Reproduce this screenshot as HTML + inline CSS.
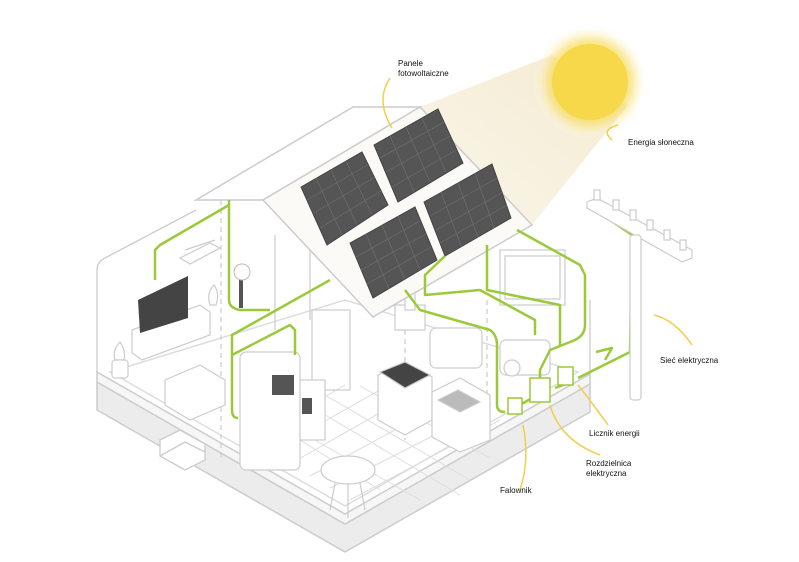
<!DOCTYPE html>
<html><head><meta charset="utf-8"><style>
body{margin:0;background:#fff}
svg{display:block}
text{font-family:"Liberation Sans",sans-serif;font-size:8px;fill:#111}
</style></head><body>
<svg width="799" height="562" viewBox="0 0 799 562" xmlns="http://www.w3.org/2000/svg">
<defs>
<radialGradient id="sg"><stop offset="0.55" stop-color="#f6d84a"/><stop offset="0.75" stop-color="#f8e27a" stop-opacity="0.6"/><stop offset="1" stop-color="#fff" stop-opacity="0"/></radialGradient>
<linearGradient id="bg" x1="1" y1="0" x2="0" y2="1"><stop offset="0" stop-color="#f4ead0"/><stop offset="1" stop-color="#faf6ea"/></linearGradient>
</defs>
<polygon points="552,55 420,107 532,225 628,105" fill="url(#bg)"/>
<circle cx="590" cy="82" r="58" fill="url(#sg)"/>
<circle cx="590" cy="82" r="38" fill="#f6d84a"/>
<!-- slab -->
<g stroke="#ccc" stroke-width="1.5">
<polygon points="97,382 345,524 590,384 590,412 345,552 97,410" fill="#ececec"/>
<polygon points="97,372 345,514 590,374 590,384 345,524 97,382" fill="#f6f6f6"/>
<polygon points="110,372 345,506 578,372 345,300" fill="#fff" stroke="#ddd"/>
</g>
<g fill="none" stroke="#ccc" stroke-width="1.3">
<path d="M97,372 L97,270 Q97,262 105,258 L196,210"/>
<path d="M590,374 L590,300"/>
<polygon points="160,440 180,430 205,444 205,460 185,470 160,456" fill="#fff"/>
<path d="M160,456 L185,442 L205,452"/>
</g>
<!-- floor tiles -->
<g stroke="#ddd" stroke-width="1">
<path d="M250,440 L345,385 M270,452 L380,390 M290,464 L420,390 M310,476 L450,400 M330,488 L480,412 M350,500 L500,420"/>
<path d="M300,400 L460,495 M280,420 L420,500 M320,392 L470,480 M360,386 L490,458 M300,440 L380,490"/>
</g>
<!-- interior -->
<g fill="#fff" stroke="#ccc" stroke-width="1.2">
<path d="M275,235 L275,330 M310,240 L310,320 M185,250 L215,240" fill="none"/>
<rect x="312" y="310" width="38" height="80" fill="none"/>
<path d="M221,200 L221,460 M405,330 L405,440 M487,300 L487,440" fill="none" stroke-dasharray="5,4"/>
<rect x="240" y="352" width="60" height="118" rx="6"/>
<rect x="300" y="380" width="25" height="60"/>
<rect x="272" y="375" width="22" height="20" fill="#555" stroke="none"/>
<rect x="302" y="398" width="10" height="16" fill="#555" stroke="none"/>
<polygon points="378,375 405,362 432,377 432,420 405,435 378,420"/>
<polygon points="380,372 405,362 430,375 405,388" fill="#444"/>
<polygon points="432,392 460,378 490,395 490,440 460,452 432,437"/>
<polygon points="438,400 458,390 480,402 460,412" fill="#bbb"/>
<rect x="430" y="328" width="52" height="40" rx="6"/>
<rect x="500" y="340" width="50" height="35" rx="6"/>
<circle cx="512" cy="368" r="8"/>
<rect x="500" y="250" width="65" height="55"/>
<rect x="505" y="256" width="55" height="43"/>
<polygon points="132,330 200,305 210,312 210,335 142,360 132,353"/>
<polygon points="165,380 200,365 225,380 225,405 190,420 165,405"/>
<path d="M115,360 q-3,-10 5,-18 q6,8 4,18 z M210,305 q-4,-12 4,-20 q6,8 2,20z"/>
<rect x="112" y="360" width="16" height="18" rx="3"/>
<ellipse cx="348" cy="470" rx="27" ry="14"/>
<path d="M335,483 L330,510 M360,483 L365,510 M348,484 L348,518" fill="none"/>
<rect x="395" y="305" width="30" height="25"/>
<rect x="405" y="280" width="10" height="30"/>
<polygon points="180,258 210,243 220,248 190,264"/>
</g>
<polygon points="138,300 188,276 188,318 140,333" fill="#444"/>
<rect x="239" y="268" width="4" height="40" fill="#555"/>
<ellipse cx="242" cy="272" rx="8" ry="8" fill="#fff" stroke="#bbb"/>
<!-- roof -->
<g stroke="#ccc" stroke-width="1.5" fill="#fff">
<polygon points="196,200 353,107 420,107 263,200"/>
<polygon points="263,200 420,107 532,225 373,317" fill="#fbfaf7"/>
</g>
<!-- panels -->
<g fill="#555" stroke="#444">
<polygon points="301,187 362,152 388,205 327,245"/>
<polygon points="374,145 438,109 463,163 398,202"/>
<polygon points="350,243 415,207 437,260 373,298"/>
<polygon points="424,202 492,164 511,218 445,256"/>
</g>
<g stroke="#6e6e6e" stroke-width="0.7" fill="none">
<path d="M331,170 L357,225 M316,178 L342,235 M346,161 L372,215 M307,200 L369,164 M314,213 L375,177 M320,228 L381,191"/>
<path d="M406,127 L430,182 M390,136 L414,192 M422,118 L446,172 M380,158 L444,122 M386,172 L450,136 M392,187 L456,150"/>
<path d="M382,225 L405,280 M366,234 L389,289 M398,216 L420,270 M356,257 L420,221 M361,270 L426,234 M367,284 L431,247"/>
<path d="M458,183 L478,237 M441,192 L461,246 M475,173 L494,228 M430,216 L497,178 M436,230 L503,192 M440,243 L507,205"/>
</g>
<!-- green lines -->
<g fill="none" stroke="#9cc93a" stroke-width="2.5" stroke-linejoin="round">
<path d="M229,200 L229,300 Q229,308 240,310 L270,310"/>
<path d="M229,205 L160,245 L155,250 L155,280"/>
<path d="M330,280 L232,335 L232,410 Q232,418 238,418"/>
<path d="M232,355 L290,325 L295,330 L295,355"/>
<path d="M405,290 L420,310 L490,330 Q497,335 497,345 L497,405 Q497,412 505,412"/>
<path d="M445,256 L425,275 L425,295 L480,290 L535,320 L535,335"/>
<path d="M487,245 L487,290 L560,305 L560,345"/>
<path d="M517,230 L580,265 L585,275 L585,325 Q585,335 575,340 L550,350 L540,370 L540,380"/>
<path d="M520,405 L532,398 M555,388 L566,384 M578,378 L630,352 L632,235 Q633,228 640,225 L690,250"/>
<path d="M632,235 L588,205"/>
<path d="M596,352 L612,348 L605,360"/>
</g>
<g fill="#fff" stroke="#9cc93a" stroke-width="1.5">
<rect x="508" y="398" width="14" height="16"/>
<rect x="530" y="378" width="20" height="24"/>
<rect x="558" y="367" width="15" height="18"/>
</g>
<!-- pole -->
<g fill="#fff" stroke="#ccc" stroke-width="1.2">
<polygon points="587,202 597,198 692,250 692,258 682,262 587,208"/>
<rect x="630" y="235" width="11" height="165" rx="3"/>
<rect x="594" y="190" width="6" height="10"/><rect x="613" y="200" width="6" height="10"/><rect x="630" y="210" width="6" height="10"/><rect x="647" y="220" width="6" height="10"/><rect x="664" y="230" width="6" height="10"/><rect x="680" y="240" width="6" height="10"/>
</g>
<!-- callouts -->
<g fill="none" stroke="#f2cf4a" stroke-width="1.5">
<path d="M390,78 Q375,100 392,128"/>
<path d="M612,140 Q600,130 618,125"/>
<path d="M654,315 Q675,320 692,345"/>
<path d="M608,425 Q590,400 578,385"/>
<path d="M600,455 Q560,440 550,405"/>
<path d="M520,490 Q530,460 523,425"/>
</g>
<text x="398" y="66">Panele</text>
<text x="398" y="76">fotowoltaiczne</text>
<text x="628" y="145">Energia słoneczna</text>
<text x="660" y="363">Sieć elektryczna</text>
<text x="589" y="436">Licznik energii</text>
<text x="586" y="466">Rozdzielnica</text>
<text x="586" y="476">elektryczna</text>
<text x="500" y="493">Falownik</text>
</svg>
</body></html>
